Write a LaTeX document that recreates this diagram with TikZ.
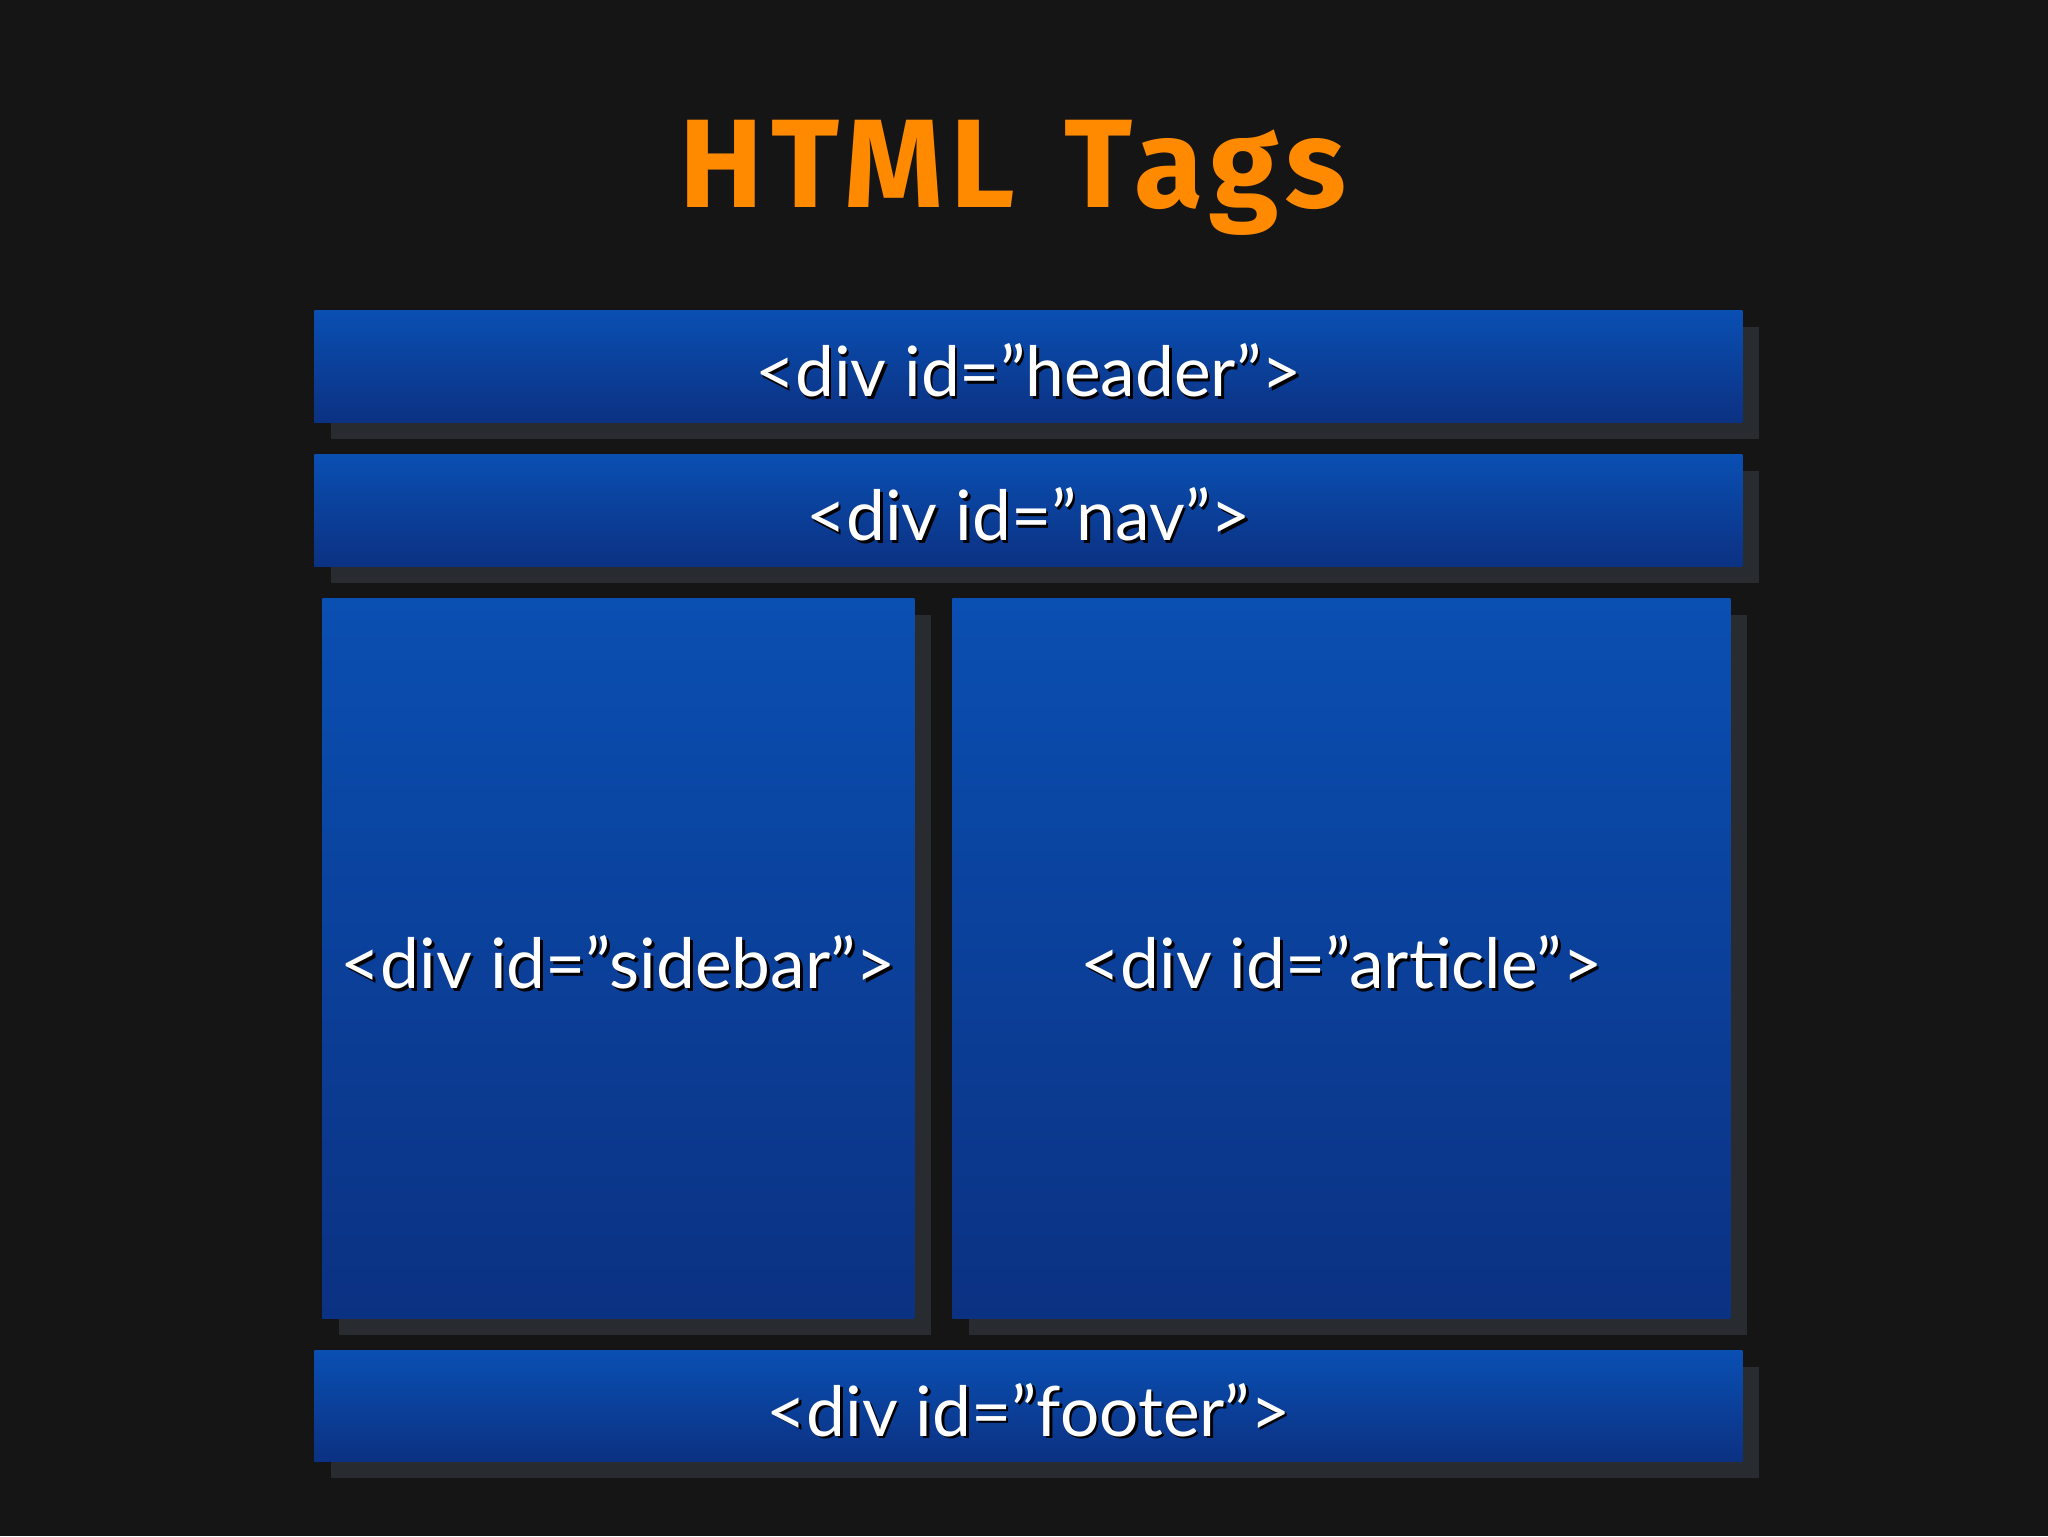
\documentclass[tikz,border=0pt]{standalone}
\usepackage{fontspec}
\setmainfont{Lato}
\newfontfamily\titlefont[LetterSpace=6]{Fira Sans}
\usetikzlibrary{shadows}
\definecolor{bgc}{HTML}{151515}
\definecolor{blueTop}{HTML}{0A4FB2}
\definecolor{blueBot}{HTML}{0B3182}
\definecolor{shc}{HTML}{282C31}
\definecolor{orangeT}{HTML}{FF8A00}
\tikzset{
  box/.style={anchor=north west, inner sep=0pt, top color=blueTop, bottom color=blueBot, draw=none,
    general shadow={fill=shc, shadow xshift=8.5pt, shadow yshift=-8.5pt}},
  lbl/.style={text=white, font=\fontsize{34.7}{38}\selectfont, inner sep=0pt},
  lblsh/.style={text=black, font=\fontsize{34.7}{38}\selectfont, inner sep=0pt},
}
\begin{document}
\begin{tikzpicture}[x=0.5pt,y=-0.5pt]
\fill[bgc] (0,0) rectangle (2048,1536);
\useasboundingbox (0,0) rectangle (2048,1536);
\node[text=orangeT, font=\titlefont\bfseries\fontsize{63}{70}\selectfont, anchor=base] (title) at (1013,207) {HTML\hspace{6pt} Tags};
\node[box, minimum width=714pt, minimum height=56pt] (header) at (314,310) {};
\node[box, minimum width=714pt, minimum height=56pt] (nav) at (314,454) {};
\node[box, minimum width=296pt, minimum height=360pt] (sidebar) at (322,598) {};
\node[box, minimum width=389pt, minimum height=360pt] (article) at (952,598) {};
\node[box, minimum width=714pt, minimum height=55.5pt] (footer) at (314,1350) {};
\foreach \n/\t in {header/header, nav/nav, sidebar/sidebar, article/article, footer/footer}{
  \node[lblsh] (\n S) at ([shift={(1.3pt,-3.3pt)}]\n.center) {<div id=”\t”>};
  \node[lbl] (\n T) at ([yshift=-2pt]\n.center) {<div id=”\t”>};
}
\end{tikzpicture}
\end{document}
